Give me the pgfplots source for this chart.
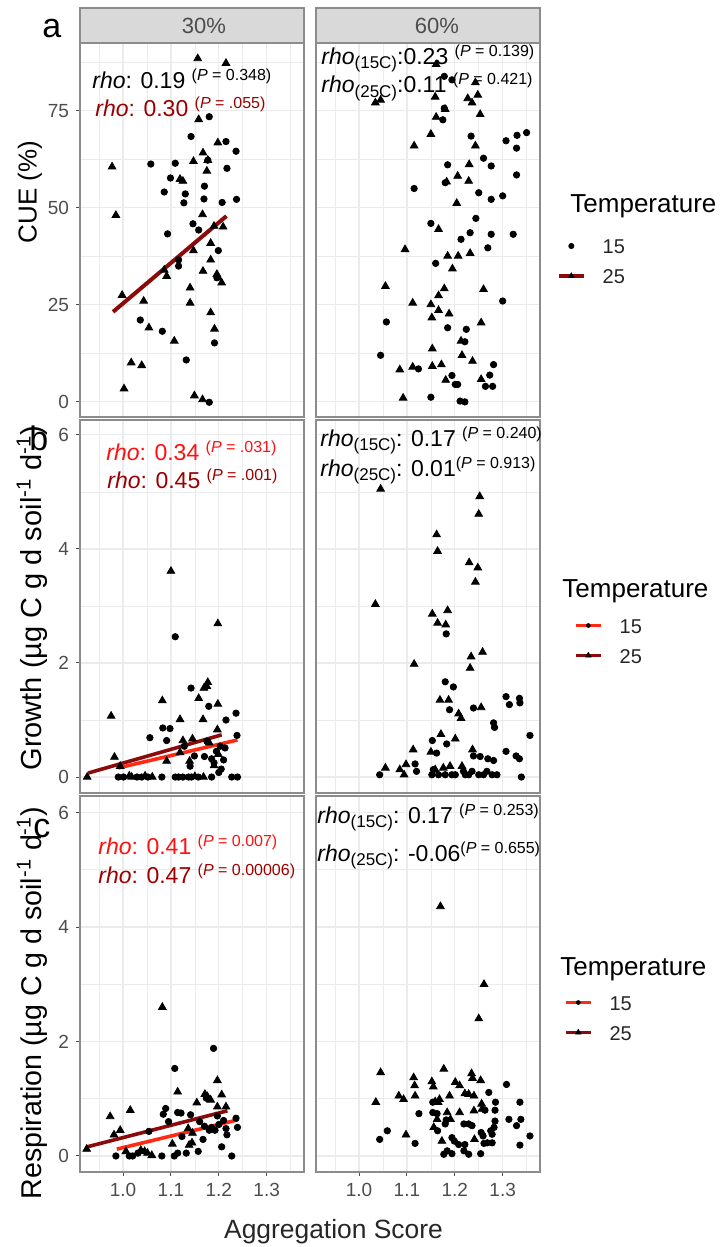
\documentclass[border=0pt]{standalone}
\usepackage{pgfplots}
\pgfplotsset{compat=1.18}
\usepackage{fontspec}
\setmainfont{Liberation Sans}
\definecolor{gridc}{HTML}{EBEBEB}
\definecolor{borderc}{HTML}{8C8C8C}
\definecolor{stripc}{HTML}{D9D9D9}
\definecolor{tickc}{HTML}{4D4D4D}
\definecolor{dred}{HTML}{8B0A0A}
\definecolor{dredtxt}{HTML}{9A0000}
\definecolor{bred}{HTML}{FF2A12}
\definecolor{redtxt}{HTML}{FF1010}
\newcommand{\supP}[1]{\raisebox{4pt}{\fontsize{8}{8}\selectfont(\textit{P} = #1)}}
\newcommand{\subT}[1]{\raisebox{-2pt}{\fontsize{8.5}{9}\selectfont(#1)}}
\newcommand{\annfont}{\fontsize{11.5}{13}\selectfont}
\pgfplotsset{
 fac/.style={
  scale only axis, width=112pt, anchor=north west,
  xmin=0.91, xmax=1.378,
  xtick={1,1.1,1.2,1.3}, minor xtick={0.95,1.05,1.15,1.25,1.35},
  xticklabels={1.0,1.1,1.2,1.3},
  grid=both,
  major grid style={draw=gridc, line width=0.6pt},
  minor grid style={draw=gridc, line width=0.35pt},
  axis line style={draw=borderc, line width=0.6pt},
  tick style={draw=tickc, line width=0.5pt},
  major tick length=2pt, minor tick length=0pt,
  tick align=outside, xtick pos=bottom, ytick pos=left,
  ticklabel style={font=\fontsize{9.5}{10}\selectfont, text=tickc},
  /pgf/number format/assume math mode=true,
  clip=false,
 },
 rowa/.style={height=187pt, ymin=-3.9, ymax=92.5, ytick={0,25,50,75}, minor ytick={12.5,37.5,62.5,87.5}, yticklabels={0,25,50,75}},
 rowb/.style={height=186.5pt, ymin=-0.28, ymax=6.26, ytick={0,2,4,6}, minor ytick={1,3,5}, yticklabels={0,2,4,6}},
 rowc/.style={height=188pt, ymin=-0.28, ymax=6.29, ytick={0,2,4,6}, minor ytick={1,3,5}, yticklabels={0,2,4,6}},
 noxt/.style={xmajorticks=false, xticklabels={}},
 noyt/.style={ymajorticks=false, yticklabels={}},
 circ/.style={only marks, mark=*, mark size=1.6pt, black, forget plot},
 tri/.style={only marks, mark=triangle*, mark size=2.2pt, black, forget plot},
 lgline/.style={legend image code/.code={\draw[##1, mark repeat=2, mark phase=2] plot coordinates {(0cm,0pt) (0.22cm,0pt) (0.44cm,0pt)};}},
 lgstyle/.style={legend cell align=left, legend style={draw=none, fill=none, inner sep=0pt, outer sep=0pt, anchor=west, font=\fontsize{10}{12}\selectfont, text=black!85, nodes={inner sep=2pt, text height=7.5pt, text depth=0pt}, row sep=3.5pt, /tikz/every odd column/.append style={column sep=6.5pt}}},
}
\begin{document}
\begin{tikzpicture}
\path[use as bounding box] (0,0) rectangle (361pt,-623.5pt);
% strips
\draw[fill=stripc, draw=borderc, line width=0.6pt] (40pt,-4pt) rectangle (152pt,-21.5pt);
\draw[fill=stripc, draw=borderc, line width=0.6pt] (158pt,-4pt) rectangle (270pt,-21.5pt);
\node[text=tickc, font=\fontsize{11}{12}\selectfont] at (102pt,-13pt) {30\%};
\node[text=tickc, font=\fontsize{11}{12}\selectfont] at (218.5pt,-13pt) {60\%};

% ---------- Row a left
\begin{axis}[fac, rowa, noxt, at={(40pt,-21.5pt)}]
\addplot[circ] table {
x y
1.180 73.5
1.142 68.4
1.215 67.1
1.236 64.6
1.177 62.3
1.058 61.3
1.109 61.5
1.217 60.2
1.099 57.7
1.170 55.6
1.086 54.1
1.130 53.6
1.127 51.3
1.169 52.3
1.207 51.4
1.237 52.2
1.146 45.9
1.158 44.3
1.093 43.3
1.199 39.0
1.116 36.6
1.116 35.0
1.196 32.0
1.036 21.1
1.082 18.2
1.191 15.2
1.132 10.8
1.180 -0.1
};
\addplot[tri] table {
x y
1.156 88.5
1.215 87.3
1.158 72.8
1.198 66.8
1.167 64.2
1.177 62.3
1.147 62.0
0.977 60.6
1.175 59.5
1.119 57.4
1.125 56.9
0.985 48.1
1.166 48.3
1.190 45.3
1.209 45.1
1.183 40.9
1.147 39.0
1.183 36.6
1.086 34.0
1.091 32.4
1.167 33.7
1.196 32.9
1.199 32.0
1.206 30.7
1.140 29.4
0.998 27.5
1.043 26.0
1.140 25.5
1.183 23.0
1.054 19.1
1.191 18.8
1.107 15.7
1.017 10.1
1.039 9.4
1.002 3.4
1.149 1.6
1.166 0.6
};
\addplot[dred, line width=2pt, forget plot] coordinates {(0.979,23.2) (1.216,47.9)};
\end{axis}

% ---------- Row a right
\begin{axis}[fac, rowa, noxt, noyt, at={(158pt,-21.5pt)}, lgstyle, legend style={at={(axis description cs:1.0759,0.4171)}}]
\addplot[circ] table {
x y
1.178 83.9
1.194 83.0
1.178 75.7
1.175 72.7
1.350 69.4
1.330 68.7
1.307 67.3
1.329 65.4
1.234 68.5
1.260 62.8
1.276 60.8
1.185 61.1
1.329 58.5
1.180 56.5
1.115 55.0
1.250 53.9
1.276 52.2
1.300 53.1
1.244 47.3
1.150 46.0
1.232 43.6
1.276 43.2
1.322 43.2
1.213 41.9
1.269 39.7
1.160 35.7
1.300 26.0
1.057 20.6
1.185 19.1
1.224 18.7
1.221 15.5
1.045 12.0
1.281 9.6
1.124 8.5
1.194 6.8
1.201 4.5
1.206 4.5
1.273 6.9
1.264 4.0
1.279 4.0
1.150 1.2
1.211 0.2
1.221 0.0
};
\addplot[tri] table {
x y
1.161 87.0
1.243 82.3
1.159 78.6
1.034 77.1
1.045 77.8
1.227 78.2
1.236 77.1
1.248 79.1
1.180 75.4
1.161 73.4
1.253 74.1
1.150 69.0
1.115 66.0
1.243 66.0
1.230 61.2
1.206 58.2
1.229 56.9
1.183 56.7
1.204 51.2
1.166 44.5
1.096 39.3
1.185 37.6
1.207 37.6
1.232 38.3
1.195 34.3
1.055 29.8
1.178 29.2
1.166 27.4
1.260 29.0
1.112 25.5
1.150 25.1
1.166 23.6
1.188 22.7
1.152 21.7
1.255 20.4
1.213 15.7
1.153 13.7
1.215 12.0
1.237 10.5
1.085 8.3
1.112 9.0
1.153 9.2
1.172 9.6
1.181 5.6
1.255 5.8
1.092 1.0
};
\addlegendimage{only marks, mark=*, mark size=1.3pt, black, lgline}
\addlegendentry{15}
\addlegendimage{dred, line width=1.8pt, mark=triangle*, mark size=1.6pt, mark options={black, line width=0.3pt}, lgline}
\addlegendentry{25}
\end{axis}

% ---------- Row b left
\begin{axis}[fac, rowb, noxt, at={(40pt,-210pt)}]
\addplot[circ] table {
x y
1.109 2.46
1.142 1.56
1.179 1.24
1.236 1.12
1.215 1.00
1.083 0.86
1.098 0.85
1.056 0.69
1.091 0.64
1.238 0.73
1.128 0.54
1.175 0.63
1.203 0.54
1.213 0.51
1.149 0.37
1.170 0.36
1.185 0.32
1.205 0.14
1.140 0.19
1.195 0.45
1.190 0.25
1.210 0.30
1.200 0.08
0.990 0.0
1.001 0.0
1.029 0.0
1.039 0.0
1.052 0.0
1.081 0.0
1.109 0.0
1.116 0.0
1.125 0.0
1.137 0.0
1.143 0.0
1.157 0.0
1.185 0.0
1.227 0.0
1.239 0.0
};
\addplot[tri] table {
x y
1.100 3.61
1.198 2.69
1.177 1.66
1.175 1.59
1.169 1.56
1.082 1.34
1.158 1.38
1.198 1.28
0.975 1.07
1.119 1.01
1.167 1.01
1.197 0.83
1.125 0.64
1.145 0.67
1.180 0.60
0.982 0.35
1.119 0.43
1.139 0.28
1.091 0.28
1.199 0.40
1.190 0.20
0.994 0.19
0.925 0.00
1.013 0.02
1.018 0.0
1.046 0.02
1.061 0.0
1.150 0.01
1.168 0.0
};
\addplot[dred, line width=1.8pt, forget plot] coordinates {(0.927,0.07) (1.206,0.74)};
\addplot[bred, line width=1.8pt, forget plot] coordinates {(0.990,0.16) (1.239,0.65)};
\end{axis}

% ---------- Row b right
\begin{axis}[fac, rowb, noxt, noyt, at={(158pt,-210pt)}, lgstyle, legend style={at={(axis description cs:1.1518,0.4088)}}]
\addplot[circ] table {
x y
1.182 2.51
1.180 1.67
1.197 1.58
1.189 1.18
1.239 1.21
1.307 1.41
1.314 1.27
1.335 1.38
1.336 1.30
1.281 0.95
1.283 0.87
1.357 0.73
1.153 0.64
1.183 0.58
1.162 0.42
1.239 0.37
1.253 0.36
1.269 0.32
1.281 0.29
1.307 0.45
1.328 0.37
1.335 0.32
1.043 0.04
1.117 0.23
1.120 0.10
1.152 0.04
1.155 0.13
1.166 0.04
1.180 0.04
1.194 0.04
1.201 0.04
1.218 0.10
1.222 0.04
1.229 0.04
1.236 0.10
1.250 0.04
1.260 0.04
1.267 0.10
1.278 0.04
1.288 0.04
1.339 0.00
};
\addplot[tri] table {
x y
1.045 5.05
1.252 4.92
1.250 4.61
1.162 4.25
1.164 3.96
1.230 3.76
1.248 3.67
1.243 3.42
1.034 3.03
1.153 2.86
1.185 2.92
1.164 2.70
1.181 2.67
1.234 2.11
1.258 2.19
1.232 1.91
1.115 1.98
1.169 1.35
1.187 1.35
1.255 1.22
1.208 1.11
1.213 1.03
1.171 0.75
1.201 0.67
1.113 0.48
1.150 0.44
1.237 0.48
1.055 0.16
1.085 0.13
1.094 0.04
1.098 0.22
1.159 0.13
1.176 0.16
1.190 0.19
1.215 0.19
};
\addlegendimage{bred, line width=1.8pt, mark=*, mark size=1.0pt, mark options={black, line width=0.3pt}, lgline}
\addlegendentry{15}
\addlegendimage{dred, line width=1.8pt, mark=triangle*, mark size=1.6pt, mark options={black, line width=0.3pt}, lgline}
\addlegendentry{25}
\end{axis}

% ---------- Row c left
\begin{axis}[fac, rowc, at={(40pt,-398pt)}]
\addplot[circ] table {
x y
1.189 1.88
1.108 1.53
1.174 1.01
1.089 0.83
1.084 0.73
1.114 0.76
1.121 0.75
1.141 0.72
1.197 0.70
1.236 0.66
1.160 0.60
1.095 0.60
1.054 0.43
1.215 0.48
1.239 0.50
1.192 0.45
1.180 0.45
1.123 0.34
1.217 0.37
1.167 0.29
1.206 0.16
1.157 0.08
1.132 0.05
0.985 0.0
1.013 0.0
1.020 0.0
1.031 0.05
1.081 0.0
1.107 0.0
1.114 0.05
1.227 0.0
1.200 0.55
1.185 0.50
1.210 0.62
1.170 0.52
};
\addplot[tri] table {
x y
1.082 2.60
1.197 1.32
1.114 1.12
1.171 1.08
1.176 1.04
1.183 0.98
1.206 1.07
1.154 0.93
1.197 0.86
1.215 0.86
0.973 0.69
1.015 0.80
0.994 0.45
0.981 0.37
1.136 0.48
1.145 0.40
1.103 0.21
1.144 0.23
1.138 0.19
0.924 0.12
1.037 0.10
1.045 0.08
1.051 0.05
1.060 0.01
1.006 0.08
};
\addplot[dred, line width=1.8pt, forget plot] coordinates {(0.925,0.16) (1.218,0.79)};
\addplot[bred, line width=1.8pt, forget plot] coordinates {(0.987,0.12) (1.239,0.63)};
\end{axis}

% ---------- Row c right
\begin{axis}[fac, rowc, noyt, at={(158pt,-398pt)}, lgstyle, legend style={at={(axis description cs:1.107,0.4109)}}]
\addplot[circ] table {
x y
1.308 1.25
1.271 1.11
1.154 0.94
1.336 0.94
1.263 0.80
1.285 0.94
1.125 0.74
1.154 0.76
1.163 0.74
1.284 0.80
1.284 0.61
1.313 0.64
1.338 0.64
1.329 0.53
1.182 0.63
1.219 0.56
1.229 0.56
1.236 0.53
1.180 0.56
1.164 0.44
1.255 0.41
1.259 0.35
1.275 0.44
1.282 0.50
1.278 0.38
1.357 0.35
1.336 0.19
1.059 0.44
1.043 0.29
1.117 0.22
1.194 0.32
1.199 0.26
1.208 0.20
1.221 0.20
1.261 0.22
1.268 0.23
1.278 0.23
1.184 0.09
1.177 0.03
1.194 0.04
1.219 0.09
1.229 0.03
1.254 0.04
};
\addplot[tri] table {
x y
1.170 4.36
1.261 3.00
1.250 2.40
1.045 1.46
1.177 1.52
1.114 1.37
1.116 1.23
1.152 1.30
1.155 1.21
1.235 1.44
1.237 1.36
1.254 1.32
1.201 1.29
1.035 0.94
1.083 1.05
1.093 0.99
1.117 1.05
1.210 1.23
1.221 1.09
1.229 1.08
1.240 1.05
1.189 1.05
1.168 0.99
1.159 0.95
1.165 0.94
1.256 0.91
1.257 0.82
1.240 0.79
1.184 0.76
1.210 0.76
1.163 0.64
1.191 0.64
1.156 0.50
1.241 0.29
1.098 0.37
1.173 0.26
};
\addlegendimage{bred, line width=1.8pt, mark=*, mark size=1.0pt, mark options={black, line width=0.3pt}, lgline}
\addlegendentry{15}
\addlegendimage{dred, line width=1.8pt, mark=triangle*, mark size=1.6pt, mark options={black, line width=0.3pt}, lgline}
\addlegendentry{25}
\end{axis}

% ---------- annotations
\begin{scope}[every node/.style={anchor=base west, inner sep=0pt, font=\annfont}]
\node[text=black] at (46pt,-44.5pt) {\textit{rho}: 0.19 \supP{0.348}};
\node[text=dredtxt] at (47.5pt,-58.5pt) {\textit{rho}: 0.30 \supP{.055}};
\node[text=redtxt] at (53pt,-230pt) {\textit{rho}: 0.34 \supP{.031}};
\node[text=dredtxt] at (53.5pt,-244pt) {\textit{rho}: 0.45 \supP{.001}};
\node[text=redtxt] at (49pt,-427pt) {\textit{rho}: 0.41 \supP{0.007}};
\node[text=dredtxt] at (49pt,-441.5pt) {\textit{rho}: 0.47 \supP{0.00006}};
\node[text=black] at (160.5pt,-32.5pt) {\textit{rho}\subT{15C}:0.23 \supP{0.139}};
\node[text=black] at (160.5pt,-46.5pt) {\textit{rho}\subT{25C}:0.11 \supP{0.421}};
\node[text=black] at (160pt,-223pt) {\textit{rho}\subT{15C}: 0.17 \supP{0.240}};
\node[text=black] at (160pt,-238pt) {\textit{rho}\subT{25C}: 0.01\supP{0.913}};
\node[text=black] at (158.5pt,-411.5pt) {\textit{rho}\subT{15C}: 0.17 \supP{0.253}};
\node[text=black] at (158.5pt,-430.5pt) {\textit{rho}\subT{25C}: -0.06\supP{0.655}};
\end{scope}

% panel letters
\node[anchor=base west, inner sep=0pt, font=\fontsize{17}{18}\selectfont] at (21pt,-19pt) {a};
\node[anchor=base west, inner sep=0pt, font=\fontsize{17}{18}\selectfont] at (14.5pt,-225pt) {b};
\node[anchor=base west, inner sep=0pt, font=\fontsize{17}{18}\selectfont] at (16.5pt,-418.5pt) {c};

% axis titles
\node[rotate=90, font=\fontsize{13}{14}\selectfont] at (15pt,-96pt) {CUE (\%)};
\node[rotate=90, font=\fontsize{14.5}{15}\selectfont] at (16pt,-299pt) {Growth (µg C g d soil\textsuperscript{-1} d\textsuperscript{-1})};
\node[rotate=90, font=\fontsize{14.3}{15}\selectfont] at (16pt,-501.5pt) {Respiration (µg C g d soil\textsuperscript{-1} d\textsuperscript{-1})};
\node[anchor=base, inner sep=0pt, font=\fontsize{13.2}{14}\selectfont, text=black!85] at (166.75pt,-619pt) {Aggregation Score};

% legend titles
\node[anchor=base west, inner sep=0pt, font=\fontsize{13}{14}\selectfont] at (285pt,-106.5pt) {Temperature};
\node[anchor=base west, inner sep=0pt, font=\fontsize{13}{14}\selectfont] at (281pt,-298.5pt) {Temperature};
\node[anchor=base west, inner sep=0pt, font=\fontsize{13}{14}\selectfont] at (280pt,-487.5pt) {Temperature};
\end{tikzpicture}
\end{document}
